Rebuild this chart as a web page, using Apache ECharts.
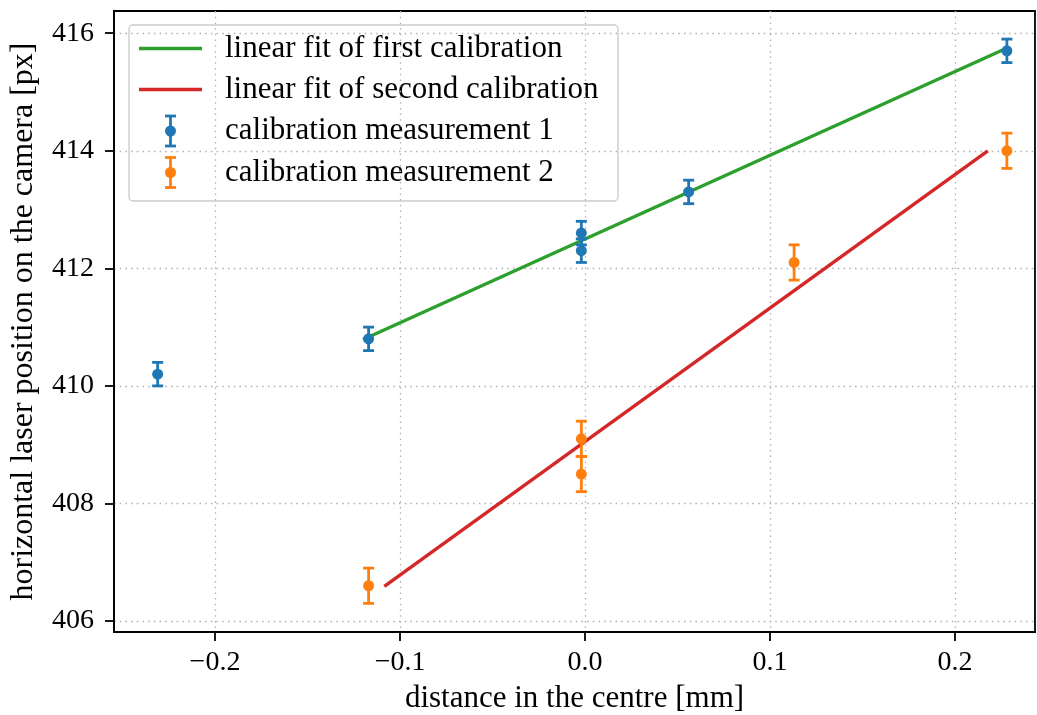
<!DOCTYPE html>
<html>
<head>
<meta charset="utf-8">
<script src="https://cdn.jsdelivr.net/npm/echarts@6/dist/echarts.min.js"></script>
<style>
  html, body { margin: 0; padding: 0; background: #fff; }
  #chart { width: 1037px; height: 715px; }
</style>
</head>
<body>
<div id="chart"></div>
<script>
// Calibration measurement 1 (blue): distance [mm], position [px], error [px]
const meas1X = [-0.231, -0.117, -0.002, -0.002, 0.056, 0.228];
const meas1Y = [410.2, 410.8, 412.6, 412.3, 413.3, 415.7];
const meas1Err = [0.2, 0.2, 0.2, 0.2, 0.2, 0.2];

// Calibration measurement 2 (orange)
const meas2X = [-0.117, -0.002, -0.002, 0.113, 0.228];
const meas2Y = [406.6, 409.1, 408.5, 412.1, 414.0];
const meas2Err = [0.3, 0.3, 0.3, 0.3, 0.3];

// Linear fits: end points [x, y]
const fit1X = [-0.120, 0.226];
const fit1Y = [410.79, 415.72];
const fit2X = [-0.1085, 0.2177];
const fit2Y = [406.59, 414.0];

// Axis ticks
const xTicks = [-0.2, -0.1, 0.0, 0.1, 0.2];
const yTicks = [406, 408, 410, 412, 414, 416];

const seriesNames = [
  'linear fit of first calibration',
  'linear fit of second calibration',
  'calibration measurement 1',
  'calibration measurement 2'
];

const C_BLUE = '#1f77b4', C_ORANGE = '#ff7f0e', C_GREEN = '#2ca02c', C_RED = '#d62728';
const FONT = 'Liberation Serif';
const FS_TEXT = 31;   // legend and x axis title
const FS_YNAME = 32;  // y axis title
const FS_TICK = 28;   // tick labels

function zip(a, b, c) {
  return a.map((v, i) => c ? [v, b[i], c[i]] : [v, b[i]]);
}

function errorBarRender(color) {
  return function (params, api) {
    const x = api.value(0), y = api.value(1), e = api.value(2);
    const top = api.coord([x, y + e]);
    const bot = api.coord([x, y - e]);
    const hw = 5.5;
    const st = { stroke: color, lineWidth: 2.8 };
    return {
      type: 'group',
      children: [
        { type: 'line', shape: { x1: top[0], y1: top[1], x2: bot[0], y2: bot[1] }, style: st },
        { type: 'line', shape: { x1: top[0] - hw, y1: top[1], x2: top[0] + hw, y2: top[1] }, style: st },
        { type: 'line', shape: { x1: bot[0] - hw, y1: bot[1], x2: bot[0] + hw, y2: bot[1] }, style: st }
      ]
    };
  };
}

const fmtMinus = s => s.replace('-', '\u2212');

const gridStyle = { color: '#b0b0b0', width: 1.3, type: [1.5, 4.2] };
const spine = { color: '#000', width: 1.8 };

const chart = echarts.init(document.getElementById('chart'), null, { renderer: 'canvas' });

// Legend drawn as a graphic group (line samples, error bar samples, labels)
const legX = 129, legY = 25, rowY = [48.5, 89.5, 131, 172.5];
function legendLine(y, color) {
  return { type: 'line', shape: { x1: 139, y1: y, x2: 202, y2: y }, style: { stroke: color, lineWidth: 3.4 } };
}
function legendErr(y, color) {
  const st = { stroke: color, lineWidth: 2.8 };
  const cx = 170.5;
  return [
    { type: 'line', shape: { x1: cx, y1: y - 15, x2: cx, y2: y + 15 }, style: st },
    { type: 'line', shape: { x1: cx - 5.5, y1: y - 15, x2: cx + 5.5, y2: y - 15 }, style: st },
    { type: 'line', shape: { x1: cx - 5.5, y1: y + 15, x2: cx + 5.5, y2: y + 15 }, style: st },
    { type: 'circle', shape: { cx: cx, cy: y, r: 5.5 }, style: { fill: color } }
  ];
}
function legendText(y, text) {
  return { type: 'text', x: 225, y: y, style: { text: text, fill: '#000', font: FS_TEXT + 'px "' + FONT + '"', textVerticalAlign: 'middle' } };
}

chart.setOption({
  animation: false,
  backgroundColor: '#fff',
  grid: {
    left: 114, right: 2, top: 11, bottom: 83,
    outerBoundsMode: 'none', containLabel: false,
    show: true, borderColor: '#000', borderWidth: 1.8, backgroundColor: 'transparent'
  },
  xAxis: {
    type: 'value',
    min: -0.2546, max: 0.2432,
    name: 'distance in the centre [mm]',
    nameLocation: 'middle', nameGap: 51,
    nameTextStyle: { fontFamily: FONT, fontSize: FS_TEXT, color: '#000' },
    axisLine: { show: true, onZero: false, lineStyle: spine },
    axisTick: { show: true, length: 9, inside: false, lineStyle: spine, customValues: xTicks },
    axisLabel: {
      customValues: xTicks, margin: 17,
      fontFamily: FONT, fontSize: FS_TICK, color: '#000',
      formatter: v => fmtMinus(v.toFixed(1))
    },
    splitLine: { show: true, lineStyle: gridStyle }
  },
  yAxis: {
    type: 'value',
    min: 405.813, max: 416.378,
    name: 'horizontal laser position on the camera [px]',
    nameLocation: 'middle', nameGap: 74,
    nameTextStyle: { fontFamily: FONT, fontSize: FS_YNAME, color: '#000' },
    axisLine: { show: true, onZero: false, lineStyle: spine },
    axisTick: { show: true, length: 9, inside: false, lineStyle: spine, customValues: yTicks },
    axisLabel: {
      customValues: yTicks, margin: 20,
      fontFamily: FONT, fontSize: FS_TICK, color: '#000',
      formatter: v => String(Math.round(v))
    },
    splitLine: { show: true, lineStyle: gridStyle }
  },
  series: [
    {
      name: seriesNames[0], type: 'line', data: zip(fit1X, fit1Y),
      showSymbol: false, lineStyle: { color: C_GREEN, width: 3.4 }, z: 2, silent: true
    },
    {
      name: seriesNames[1], type: 'line', data: zip(fit2X, fit2Y),
      showSymbol: false, lineStyle: { color: C_RED, width: 3.4 }, z: 2, silent: true
    },
    {
      name: seriesNames[2] + ' errors', type: 'custom', renderItem: errorBarRender(C_BLUE),
      data: zip(meas1X, meas1Y, meas1Err), encode: { x: 0, y: 1 }, z: 3, silent: true
    },
    {
      name: seriesNames[2], type: 'scatter', data: zip(meas1X, meas1Y),
      symbolSize: 11, itemStyle: { color: C_BLUE, opacity: 1 }, z: 4, silent: true
    },
    {
      name: seriesNames[3] + ' errors', type: 'custom', renderItem: errorBarRender(C_ORANGE),
      data: zip(meas2X, meas2Y, meas2Err), encode: { x: 0, y: 1 }, z: 3, silent: true
    },
    {
      name: seriesNames[3], type: 'scatter', data: zip(meas2X, meas2Y),
      symbolSize: 11, itemStyle: { color: C_ORANGE, opacity: 1 }, z: 4, silent: true
    }
  ],
  graphic: [{
    type: 'group', z: 100,
    children: [
      { type: 'rect', shape: { x: legX, y: legY, width: 489, height: 176, r: 4 },
        style: { fill: 'rgba(255,255,255,0.8)', stroke: '#cccccc', lineWidth: 1.4 } },
      legendLine(rowY[0], C_GREEN),
      legendLine(rowY[1], C_RED),
      ...legendErr(rowY[2], C_BLUE),
      ...legendErr(rowY[3], C_ORANGE),
      legendText(rowY[0], seriesNames[0]),
      legendText(rowY[1], seriesNames[1]),
      legendText(rowY[2], seriesNames[2]),
      legendText(rowY[3], seriesNames[3])
    ]
  }]
});
</script>
</body>
</html>
